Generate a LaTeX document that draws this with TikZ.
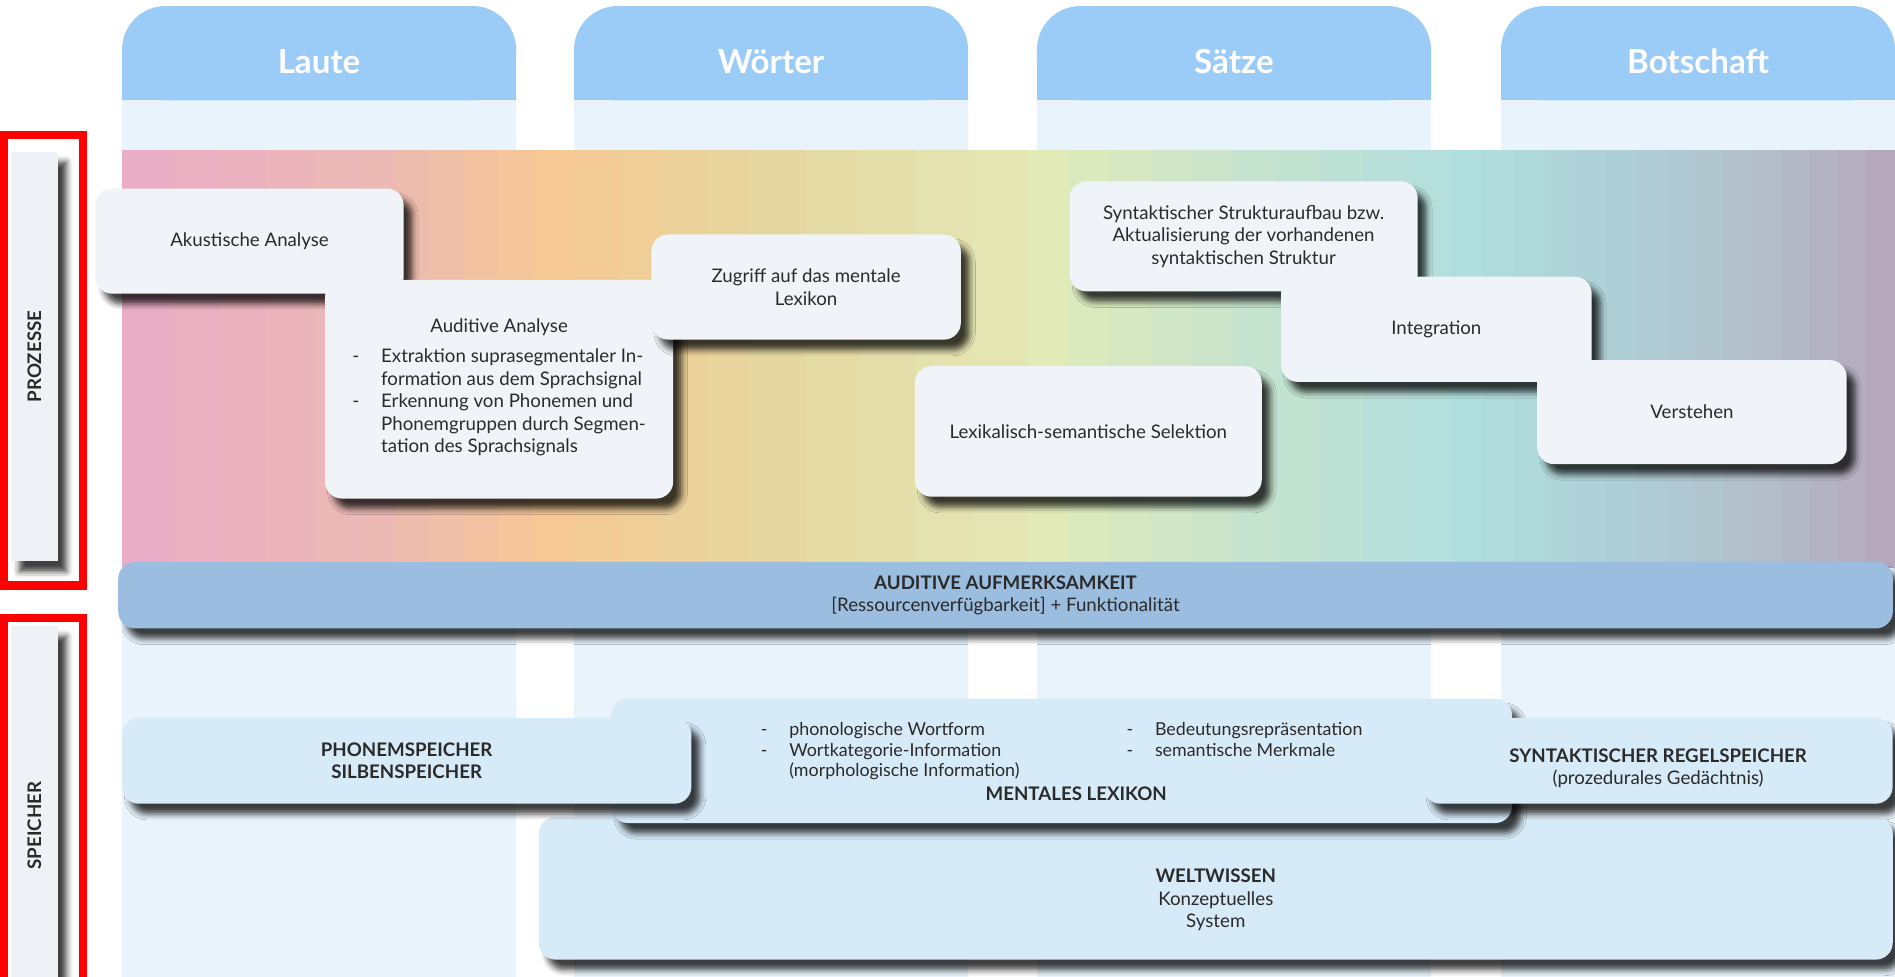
\documentclass[tikz,border=0pt]{standalone}
\usepackage{fontspec}
\setmainfont{Lato}
\usetikzlibrary{shadows.blur}

\definecolor{headblue}{HTML}{9ACCF7}
\definecolor{colbg}{HTML}{E8F3FC}
\definecolor{procfill}{HTML}{F0F4F8}
\definecolor{storefill}{HTML}{D6EAF8}
\definecolor{barblue}{HTML}{9BBDE0}
\definecolor{panelgray}{HTML}{EEF2F6}
\definecolor{txtdark}{HTML}{2A2A2A}
\definecolor{framered}{HTML}{FF0000}
% Farbverlauf Prozesse
\definecolor{g0}{HTML}{E9AEC5}
\definecolor{g1}{HTML}{ECB9B4}
\definecolor{g2}{HTML}{F6C893}
\definecolor{g3}{HTML}{E6D7A0}
\definecolor{g4}{HTML}{E2EAB8}
\definecolor{g5}{HTML}{C6E3CF}
\definecolor{g6}{HTML}{B0DEDE}
\definecolor{g7}{HTML}{AECFD6}
\definecolor{g8}{HTML}{B4BECA}
\definecolor{g9}{HTML}{B5A3BA}

\tikzset{
  softshadow/.style={blur shadow={shadow xshift=5pt, shadow yshift=-6pt, shadow blur radius=3.5pt, shadow opacity=75}},
  procbox/.style={fill=procfill, rounded corners=0.35cm, softshadow, align=center, inner sep=0pt,
    text=txtdark, font=\fontsize{11}{13.3}\selectfont},
  storebox/.style={procbox, fill=storefill},
  headtext/.style={font=\fontsize{19.5}{23}\selectfont\bfseries, text=white},
  sidepanel/.style={fill=panelgray, softshadow, inner sep=0pt, text=txtdark, font=\fontsize{11}{13}\selectfont\bfseries},
  redframe/.style={draw=framered, line width=0.175cm},
}

\begin{document}
\begin{tikzpicture}[x=0.025cm, y=-0.025cm]
  \useasboundingbox (0,0) rectangle (1568,808);

  % Spalten
  \foreach \x/\name/\lbl in {101/laute/Laute, 475/woerter/Wörter, 858/saetze/Sätze, 1242/botschaft/Botschaft} {
    \fill[colbg] (\x,83) rectangle ++(326,740);
    \fill[headblue, rounded corners=0.9cm] (\x,5) rectangle ++(326,78);
    \fill[headblue] (\x,50) rectangle ++(326,33);
    \node[headtext] (\name) at (\x+163,51) {\lbl};
  }

  % Verlauf
  \foreach \ca/\cb/\xa/\xb in {g0/g1/101/300, g1/g2/300/440, g2/g3/440/620, g3/g4/620/850, g4/g5/850/1020, g5/g6/1020/1200, g6/g7/1200/1330, g7/g8/1330/1450, g8/g9/1450/1568} {
    \foreach \t in {0,20,...,80} {
      \fill[\cb!\t!\ca] ({\xa+(\xb-\xa)/100*\t},124) rectangle ({\xa+(\xb-\xa)/100*(\t+20)+1},470);
    }
  }

  % Prozesse
  \node[procbox, minimum width=6.375cm, minimum height=2.175cm] (akustik) at (206.5,199.5) {Akustische Analyse};
  \node[procbox, minimum width=7.2cm, minimum height=4.525cm] (auditiv) at (413,322) {Auditive Analyse\\[5.5pt]
    \begin{tabular}{@{}l@{\hspace{0.45cm}}l@{}}
      -&Extraktion suprasegmentaler In-\\
      &formation aus dem Sprachsignal\\
      -&Erkennung von Phonemen und\\
      &Phonemgruppen durch Segmen-\\
      &tation des Sprachsignals
    \end{tabular}};
  \node[procbox, minimum width=6.4cm, minimum height=2.175cm] (zugriff) at (667,237.5) {Zugriff auf das mentale\\Lexikon};
  \node[procbox, minimum width=7.175cm, minimum height=2.7cm] (selektion) at (900.5,357) {Lexikalisch-semantische Selektion};
  \node[procbox, minimum width=7.2cm, minimum height=2.275cm] (syntax) at (1029,195.5) {Syntaktischer Strukturaufbau bzw.\\Aktualisierung der vorhandenen\\syntaktischen Struktur};
  \node[procbox, minimum width=6.425cm, minimum height=2.175cm] (integration) at (1188.5,272.5) {Integration};
  \node[procbox, minimum width=6.4cm, minimum height=2.15cm] (verstehen) at (1400,341) {Verstehen};

  % Seitenleisten
  \node[sidepanel, rotate=90, minimum width=8.475cm, minimum height=0.975cm] (prozesse) at (28.5,295) {PROZESSE};
  \draw[redframe] (3.5,111.5) rectangle (68.5,484.5);
  \node[sidepanel, rotate=90, minimum width=8.25cm, minimum height=0.975cm] (speicher) at (28.5,683) {SPEICHER};
  \draw[redframe] (3.5,511.5) rectangle (68.5,830);

  % Aufmerksamkeit
  \node[procbox, fill=barblue, rounded corners=0.35cm, minimum width=36.7cm, minimum height=1.375cm] (aufmerksamkeit) at (832,492.5)
    {\textbf{AUDITIVE AUFMERKSAMKEIT}\\{[}Ressourcenverfügbarkeit{]} + Funktionalität};

  % Speicher
  \node[storebox, minimum width=28cm, minimum height=2.95cm] (weltwissen) at (1006,735) {\rule{0pt}{22pt}\textbf{WELTWISSEN}\\Konzeptuelles\\System};
  \node[storebox, minimum width=18.625cm, minimum height=2.575cm] (lexikon) at (878.5,629.5) {%
    {\fontsize{10.5}{12.1}\selectfont
    \begin{tabular}{@{}l@{\hspace{0.45cm}}p{6.975cm}@{}l@{\hspace{0.45cm}}l@{}}
      -&phonologische Wortform&-&Bedeutungsrepräsentation\\
      -&Wortkategorie-Information&-&semantische Merkmale\\
      &(morphologische Information)&&
    \end{tabular}}\\[1pt]
    \hspace*{0.6cm}\textbf{MENTALES LEXIKON}};
  \node[storebox, minimum width=11.775cm, minimum height=1.775cm] (phonem) at (336.5,629.5) {\textbf{PHONEMSPEICHER}\\\textbf{SILBENSPEICHER}};
  \node[storebox, minimum width=9.7cm, minimum height=1.775cm] (regel) at (1372,629.5) {\rule{0pt}{17pt}\textbf{SYNTAKTISCHER REGELSPEICHER}\\(prozedurales Gedächtnis)};
\end{tikzpicture}
\end{document}
